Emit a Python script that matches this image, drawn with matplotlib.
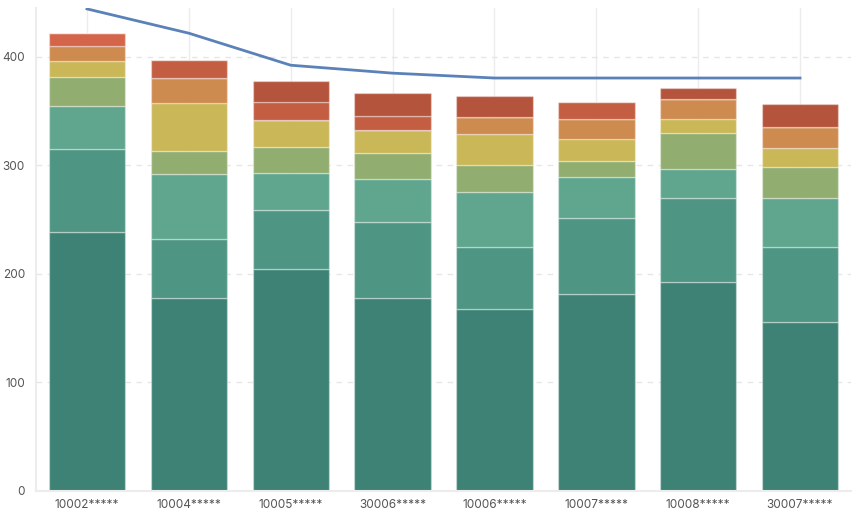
import matplotlib.pyplot as plt
import numpy as np

plt.rcParams['font.family'] = ['Inter', 'DejaVu Sans']

categories = ["10002*****", "10004*****", "10005*****", "30006*****",
              "10006*****", "10007*****", "10008*****", "30007*****"]

# stacked segments, bottom to top
s1 = [239.0, 177.6, 204.6, 177.6, 168.0, 181.6, 192.6, 155.5]
s2 = [75.9, 54.4, 54.7, 70.0, 57.2, 70.3, 77.0, 69.7]
s3 = [39.7, 59.9, 33.5, 39.7, 50.7, 37.0, 27.4, 44.6]
s4 = [26.7, 21.7, 24.0, 23.9, 24.1, 15.5, 33.0, 28.4]
s5 = [15.0, 43.7, 25.1, 21.8, 29.0, 19.7, 12.9, 17.7]
s6 = [13.8, 23.1, 0.0, 0.0, 15.4, 19.0, 18.1, 19.3]
s7 = [12.3, 0.0, 0.0, 0.0, 0.0, 0.0, 0.0, 0.0]
s8 = [0.0, 16.8, 16.3, 12.3, 0.0, 15.1, 0.0, 0.0]
s9 = [0.0, 0.0, 20.0, 21.8, 19.7, 0.0, 10.2, 21.8]

line_vals = [444.2, 421.8, 392.3, 385.0, 380.5, 380.5, 380.5, 380.5]

series = [s1, s2, s3, s4, s5, s6, s7, s8, s9]
colors = ["#3d8275", "#4e9583", "#60a68e", "#91ad70", "#cab858",
          "#cd8b4f", "#d4654a", "#c45e42", "#b5543c"]

fig = plt.figure(figsize=(8.6, 5.21), dpi=100)
ax = fig.add_axes([0.0419, 0.0576, 0.9476, 0.927])

x = np.arange(len(categories))
bottom = np.zeros(len(categories))
for vals, c in zip(series, colors):
    vals = np.array(vals)
    ax.bar(x, vals, width=0.75, bottom=bottom, color=c,
           edgecolor=(1, 1, 1, 0.35), linewidth=1, zorder=2)
    bottom += vals

ax.plot(x, line_vals, color="#5b82b8", linewidth=2, zorder=3)

ax.set_xlim(-0.5, 7.5)
ax.set_ylim(0, 445)
ax.set_yticks([0, 100, 200, 300, 400])
ax.set_xticks(x)
ax.set_xticklabels(categories)

ax.grid(axis='y', color="#e6e6e6", linestyle=(0, (4, 4)), linewidth=1)
ax.grid(axis='x', color="#ececec", linestyle='-', linewidth=1)
ax.set_axisbelow(True)

for side in ['top', 'right']:
    ax.spines[side].set_visible(False)
ax.spines['left'].set_color("#ececec")
ax.spines['bottom'].set_color("#ececec")
ax.spines['left'].set_linewidth(1.5)
ax.spines['bottom'].set_linewidth(1.5)

ax.tick_params(length=0, labelsize=8.5, labelcolor="#555555")
ax.tick_params(axis='y', pad=8)
ax.tick_params(axis='x', pad=6)

fig.savefig("out.png", dpi=100)
